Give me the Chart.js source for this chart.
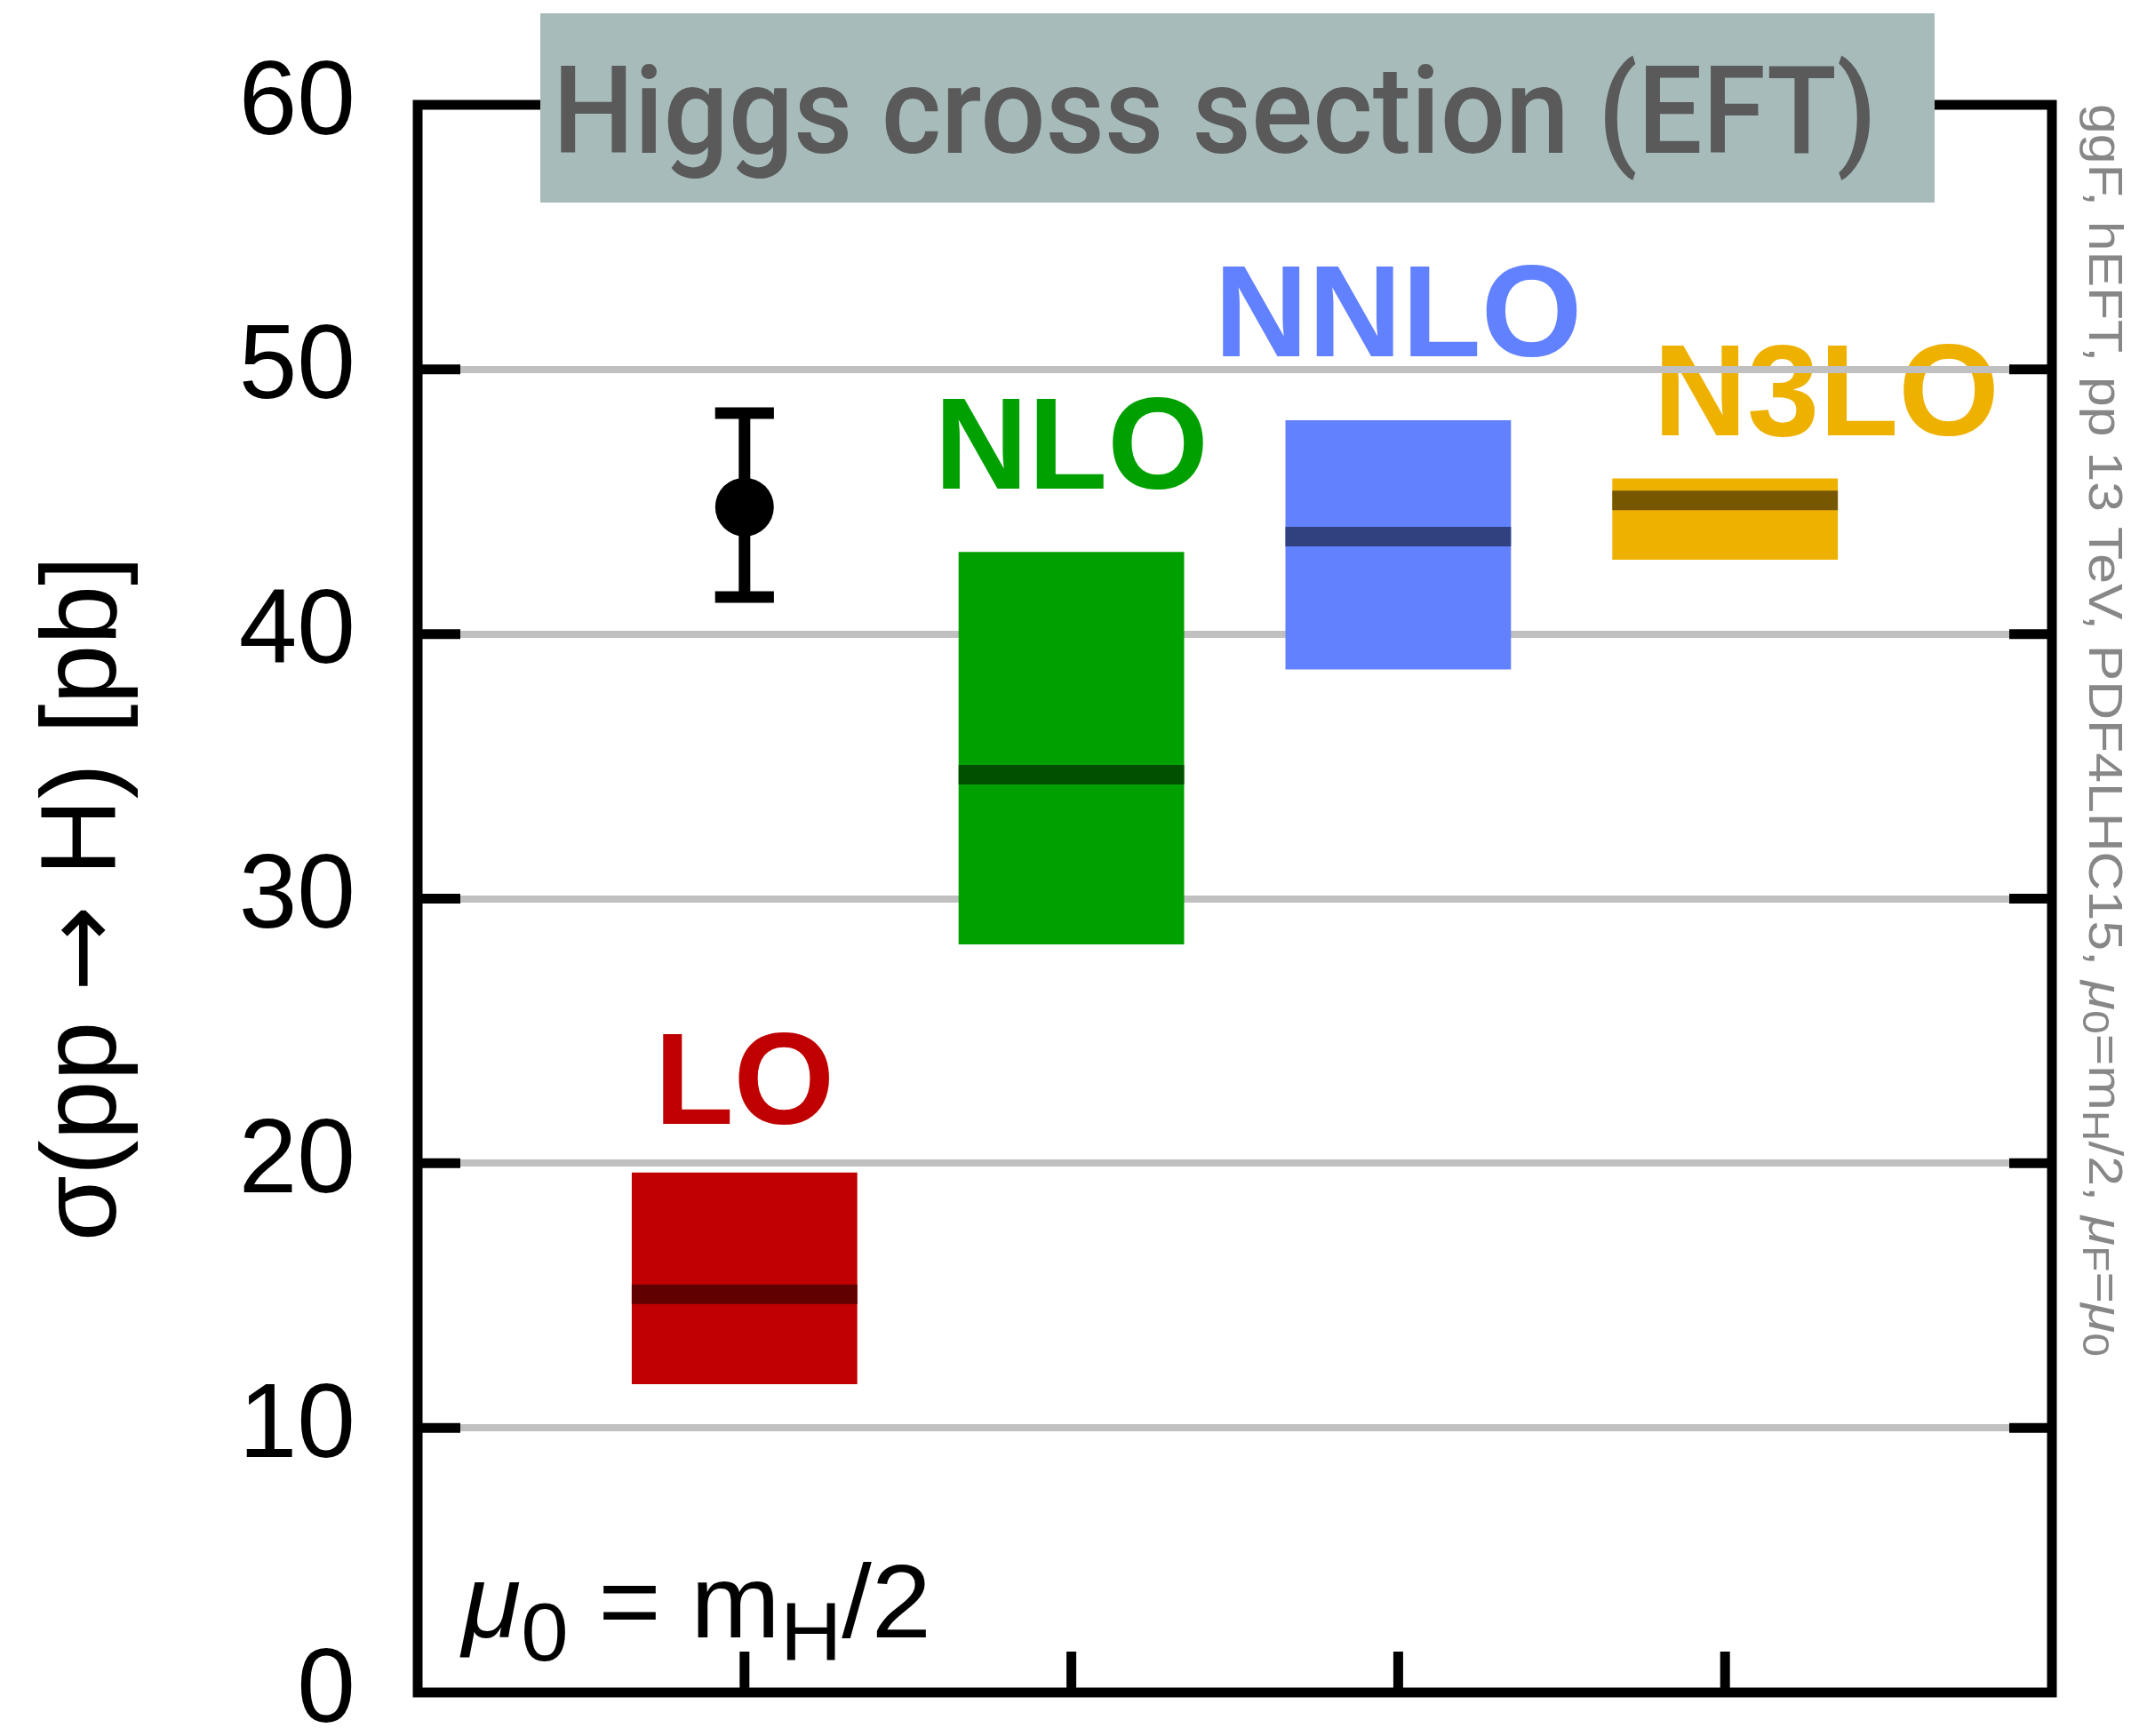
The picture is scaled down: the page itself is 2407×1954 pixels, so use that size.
<!DOCTYPE html>
<html>
<head>
<meta charset="utf-8">
<title>Higgs cross section (EFT)</title>
<script src="https://cdn.jsdelivr.net/npm/chart.js@4.4.0/dist/chart.umd.min.js"></script>
<style>
html, body { margin: 0; padding: 0; background: #fff; overflow: hidden; }
canvas { display: block; }
</style>
</head>
<body>
<canvas id="grafico-higgs" width="2407" height="1954"></canvas>
<script>
// Data
const orders = ['LO', 'NLO', 'NNLO', 'N3LO']
const orderPos = [1, 2, 3, 4]
const central = [15.05, 34.68, 43.68, 45.05]
const bandLow = [11.65, 28.27, 38.66, 42.81]
const bandHigh = [19.65, 43.10, 48.08, 45.88]
const pointPos = [1]
const pointValue = [44.8]
const pointLow = [41.4]
const pointHigh = [48.35]
const yTicks = [0, 10, 20, 30, 40, 50, 60]
const xTicks = [0, 1, 2, 3, 4, 5]

// Styles
const bandColors = ['#c00000', '#00a000', '#6281ff', '#eeb100']
const lineColors = ['#600000', '#005000', '#31407f', '#775800']
const FONT = '"Liberation Sans", Arial, sans-serif'
const halfBox = 0.345
const capHalf = 0.09

// where the order names sit (x in category units, y in pb)
const labelAt = [[1, 21.5], [2, 45.5], [3, 50.5], [4.31, 47.5]]

const canvas = document.getElementById('grafico-higgs')

// draw a run of text pieces (italic / subscript / other font), return its width
function drawPieces(ctx, pieces, base, sub, dy, draw) {
    let x = 0
    pieces.forEach(p => {
        const size = p.sub ? sub : (p.size || base)
        ctx.font = (p.it ? 'italic ' : '') + size + 'px ' + (p.family || FONT)
        if (draw) ctx.fillText(p.t, x, p.sub ? dy : 0)
        x += ctx.measureText(p.t).width
    })
    return x
}

const decor = {
    id: 'decor',
    beforeDraw(chart) {
        const {ctx, scales: {x, y}} = chart
        ctx.save()
        ctx.font = 'bold 146px ' + FONT
        ctx.textAlign = 'center'
        ctx.textBaseline = 'alphabetic'
        orders.forEach((o, i) => {
            ctx.fillStyle = bandColors[i]
            ctx.fillText(o, x.getPixelForValue(labelAt[i][0]), y.getPixelForValue(labelAt[i][1]))
        })
        ctx.restore()
    },
    afterDraw(chart) {
        const {ctx, chartArea: a, scales: {x, y}} = chart
        ctx.save()
        ctx.textBaseline = 'alphabetic'

        // frame
        ctx.strokeStyle = '#000'
        ctx.lineWidth = 11
        ctx.strokeRect(a.left, a.top, a.right - a.left, a.bottom - a.top)

        // inward ticks
        ctx.beginPath()
        yTicks.slice(1, -1).forEach(v => {
            const py = y.getPixelForValue(v)
            ctx.moveTo(a.left, py); ctx.lineTo(a.left + 48, py)
            ctx.moveTo(a.right, py); ctx.lineTo(a.right - 48, py)
        })
        orderPos.forEach(v => {
            const px = x.getPixelForValue(v)
            ctx.moveTo(px, a.bottom); ctx.lineTo(px, a.bottom - 46)
        })
        ctx.stroke()

        // y axis title, rotated
        ctx.fillStyle = '#000'
        const yTitle = [
            {t: 'σ(pp '}, {t: '→', family: '"DejaVu Sans", sans-serif', size: 116}, {t: ' H) [pb]'}
        ]
        const yw = drawPieces(ctx, yTitle, 120, 120, 0, false)
        ctx.save()
        ctx.translate(130, (a.top + a.bottom) / 2 + yw / 2)
        ctx.rotate(-Math.PI / 2)
        drawPieces(ctx, yTitle, 120, 120, 0, true)
        ctx.restore()

        // title box
        ctx.fillStyle = '#a7bbbb'
        ctx.fillRect(608, 15, 1569, 213)
        ctx.fillStyle = '#5a5a5a'
        ctx.font = '500 138px Roboto, ' + FONT
        const title = 'Higgs cross section (EFT)'
        const tw = ctx.measureText(title).width
        ctx.save()
        ctx.translate(622, 172)
        ctx.scale(1490 / tw, 1)
        ctx.fillText(title, 0, 0)
        ctx.restore()

        // mu0 = mH/2
        ctx.fillStyle = '#000'
        const scalePieces = [
            {t: 'μ', it: true}, {t: '0', sub: true}, {t: ' = m'}, {t: 'H', sub: true}, {t: '/2'}
        ]
        const sw = drawPieces(ctx, scalePieces, 117, 93, 26, false)
        ctx.save()
        ctx.translate(520, 1843)
        ctx.scale(528 / sw, 1)
        drawPieces(ctx, scalePieces, 117, 93, 26, true)
        ctx.restore()

        // side note, rotated
        ctx.fillStyle = '#878787'
        const note = [
            {t: 'ggF, hEFT, pp 13 TeV, PDF4LHC15, '}, {t: 'μ', it: true}, {t: '0', sub: true},
            {t: '=m'}, {t: 'H', sub: true}, {t: '/2, '}, {t: 'μ', it: true}, {t: 'F', sub: true},
            {t: '='}, {t: 'μ', it: true}, {t: '0', sub: true}
        ]
        const nw = drawPieces(ctx, note, 53, 42, 7, false)
        ctx.save()
        ctx.translate(2351, 117)
        ctx.rotate(Math.PI / 2)
        ctx.scale(1410 / nw, 1)
        drawPieces(ctx, note, 53, 42, 7, true)
        ctx.restore()

        ctx.restore()
    }
}

// datasets
const bandData = orderPos.map((p, i) => ({x: p, y: [bandLow[i], bandHigh[i]]}))

const centralSets = orderPos.map((p, i) => ({
    type: 'line',
    data: [{x: p - halfBox, y: central[i]}, {x: p + halfBox, y: central[i]}],
    borderColor: lineColors[i],
    borderWidth: 22,
    borderCapStyle: 'butt',
    pointRadius: 0,
    order: 5
}))

const errorSets = []
pointPos.forEach((p, i) => {
    errorSets.push({
        type: 'line',
        data: [{x: p, y: pointLow[i]}, {x: p, y: pointHigh[i]}],
        borderColor: '#000', borderWidth: 13, borderCapStyle: 'butt', pointRadius: 0, order: 2
    })
    ;[pointLow[i], pointHigh[i]].forEach(v => errorSets.push({
        type: 'line',
        data: [{x: p - capHalf, y: v}, {x: p + capHalf, y: v}],
        borderColor: '#000', borderWidth: 13, borderCapStyle: 'butt', pointRadius: 0, order: 2
    }))
})

new Chart(canvas, {
    type: 'bar',
    data: {
        datasets: [
            {
                type: 'line',
                data: pointPos.map((p, i) => ({x: p, y: pointValue[i]})),
                showLine: false,
                pointRadius: 33,
                pointBackgroundColor: '#000',
                pointBorderWidth: 0,
                order: 0
            },
            ...errorSets,
            ...centralSets,
            {
                type: 'bar',
                data: bandData,
                backgroundColor: bandColors,
                borderWidth: 0,
                barPercentage: 0.69,
                categoryPercentage: 1,
                grouped: false,
                order: 10
            }
        ]
    },
    plugins: [decor],
    options: {
        responsive: false,
        animation: false,
        events: [],
        layout: {padding: {top: 118, right: 98, bottom: 0, left: 0}},
        plugins: {
            legend: {display: false},
            tooltip: {enabled: false}
        },
        scales: {
            x: {
                type: 'linear',
                min: 0,
                max: 5,
                offset: false,
                afterBuildTicks: s => { s.ticks = xTicks.map(v => ({value: v})) },
                ticks: {display: false},
                grid: {display: false, offset: false},
                border: {display: false},
                afterFit: s => { s.height = 49; s.paddingLeft = 0; s.paddingRight = 0 }
            },
            y: {
                type: 'linear',
                min: 0,
                max: 60,
                afterBuildTicks: s => { s.ticks = yTicks.map(v => ({value: v})) },
                ticks: {
                    color: '#000',
                    padding: 70,
                    font: {family: FONT, size: 118}
                },
                grid: {
                    color: c => (c.tick && (c.tick.value === 0 || c.tick.value === 60)) ? 'rgba(0,0,0,0)' : '#c0c0c0',
                    lineWidth: 8,
                    drawTicks: false
                },
                border: {display: false},
                afterFit: s => { s.width = 470; s.paddingTop = 0; s.paddingBottom = 0 }
            }
        }
    }
})
</script>
</body>
</html>
